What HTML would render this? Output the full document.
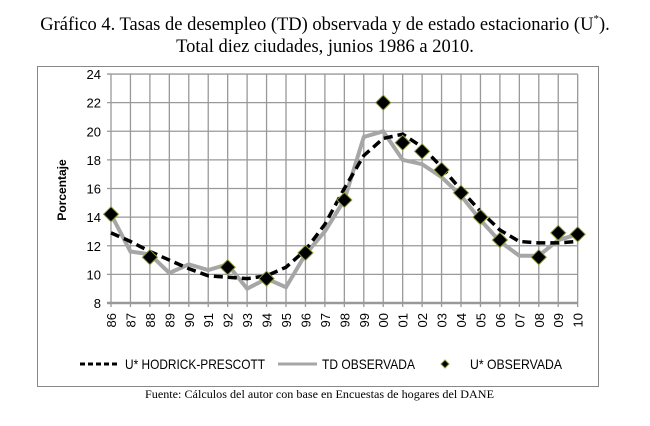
<!DOCTYPE html>
<html><head><meta charset="utf-8"><style>
body{margin:0;background:#fff;width:650px;height:421px;overflow:hidden}
</style></head><body>
<svg id="s" width="650" height="421" xmlns="http://www.w3.org/2000/svg" font-family="Liberation Sans, DejaVu Sans, sans-serif">
<text x="325" y="30" text-anchor="middle" font-family="Liberation Serif, serif" font-size="18.5">Gráfico 4. Tasas de desempleo (TD) observada y de estado estacionario (U<tspan dy="-8" font-size="11">*</tspan><tspan dy="8">).</tspan></text>
<text x="325" y="52" text-anchor="middle" font-family="Liberation Serif, serif" font-size="18.5">Total diez ciudades, junios 1986 a 2010.</text>
<rect x="37.5" y="66.5" width="561" height="320" fill="#fff" stroke="#888" stroke-width="1"/>
<text x="145" y="398" font-family="Liberation Serif, serif" font-size="12" textLength="349" lengthAdjust="spacingAndGlyphs">Fuente: Cálculos del autor con base en Encuestas de hogares del DANE</text>
<g id="g"></g>
</svg>
<script>
const X0=111,DX=19.445,Y=v=>303-(v-8)*14.31;
let h='';
for(let v=8;v<=24;v+=2){const y=Y(v);h+=`<line x1="${X0-4}" x2="${X0+24*DX}" y1="${y}" y2="${y}" stroke="#999" stroke-width="${v==8?2.5:1.3}"/>`;
h+=`<text x="${X0-10}" y="${y+5}" text-anchor="end" font-size="13">${v}</text>`;}
const labs=['86','87','88','89','90','91','92','93','94','95','96','97','98','99','00','01','02','03','04','05','06','07','08','09','10'];
labs.forEach((l,i)=>{const x=X0+i*DX;h+=`<line x1="${x}" x2="${x}" y1="${Y(24)}" y2="${Y(8)+4}" stroke="#999" stroke-width="1.3"/>`;
h+=`<text transform="translate(${x+5},${Y(8)+10}) rotate(-90)" text-anchor="end" font-size="13">${l}</text>`;});
h+=`<text transform="translate(66,190) rotate(-90)" text-anchor="middle" font-size="12" font-weight="bold">Porcentaje</text>`;
const td=[14.2,11.6,11.4,10.1,10.7,10.3,10.7,9.0,9.7,9.1,11.4,13.0,15.2,19.6,20.0,18.0,17.7,16.8,15.5,13.8,12.3,11.3,11.3,12.4,12.8];
const hp=[12.9,12.3,11.6,11.0,10.4,9.9,9.8,9.7,9.9,10.5,11.7,13.5,16.0,18.3,19.5,19.8,18.9,17.5,15.9,14.4,13.1,12.3,12.2,12.2,12.3];
const pts=a=>a.map((v,i)=>(X0+i*DX)+','+Y(v)).join(' ');
h+=`<polyline points="${pts(td)}" fill="none" stroke="#a6a6a6" stroke-width="4"/>`;
h+=`<polyline points="${pts(hp)}" fill="none" stroke="#000" stroke-width="3.5" stroke-dasharray="9,5"/>`;
const us={0:14.2,2:11.2,6:10.5,8:9.7,10:11.5,12:15.2,14:22.0,15:19.2,16:18.6,17:17.3,18:15.7,19:14.0,20:12.4,22:11.2,23:12.9,24:12.8};
const dia=(x,y,r)=>`<polygon points="${x},${y-r} ${x+r},${y} ${x},${y+r} ${x-r},${y}" fill="#000" stroke="#8a9a3a" stroke-width="1"/>`;
for(const k in us){h+=dia(X0+k*DX,Y(us[k]),7.5);}
const ly=364;
h+=`<line x1="80" x2="118" y1="${ly}" y2="${ly}" stroke="#000" stroke-width="3" stroke-dasharray="5,3"/>`;
h+=`<text x="125" y="${ly+5}" font-size="14" textLength="140" lengthAdjust="spacingAndGlyphs">U* HODRICK-PRESCOTT</text>`;
h+=`<line x1="278" x2="317" y1="${ly}" y2="${ly}" stroke="#a6a6a6" stroke-width="3"/>`;
h+=`<text x="322" y="${ly+5}" font-size="14" textLength="93" lengthAdjust="spacingAndGlyphs">TD OBSERVADA</text>`;
h+=dia(445,ly,4);
h+=`<text x="470" y="${ly+5}" font-size="14" textLength="92" lengthAdjust="spacingAndGlyphs">U* OBSERVADA</text>`;
document.getElementById('g').innerHTML=h;
</script>
</body></html>
